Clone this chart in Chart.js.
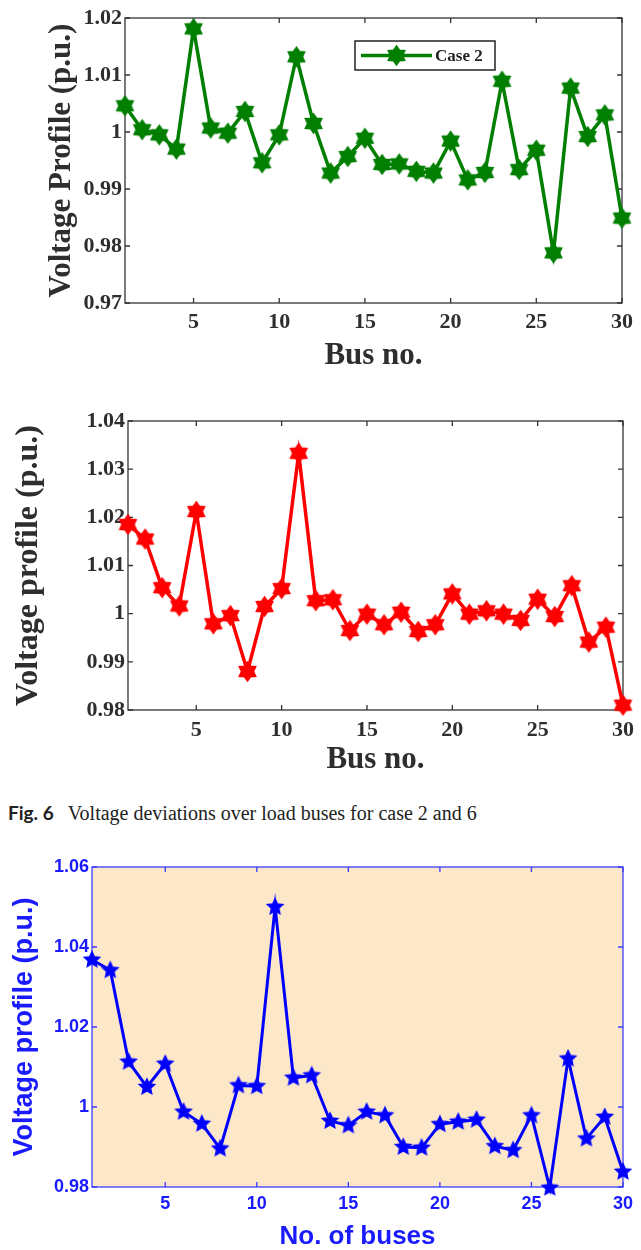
<!DOCTYPE html>
<html>
<head>
<meta charset="utf-8">
<script src="https://cdn.jsdelivr.net/npm/chart.js@4.4.1/dist/chart.umd.min.js"></script>
<style>
  html, body { margin: 0; padding: 0; background: #fff; }
  #page { position: relative; width: 641px; height: 1250px; overflow: hidden; }
  canvas { position: absolute; left: 0; }
  #caption { position: absolute; left: 8px; top: 801px; font-size: 20px; color: #222; white-space: nowrap; }
  #caption b { font-family: Lato, "Liberation Sans", sans-serif; font-weight: 700; font-size: 19px; margin-right: 14px; }
  #caption span { font-family: "Liberation Serif", serif; }
</style>
</head>
<body>
<div id="page">
  <canvas id="case2Chart" width="641" height="380" style="top:0px"></canvas>
  <canvas id="case6Chart" width="641" height="395" style="top:385px"></canvas>
  <div id="caption"><b>Fig. 6</b><span>Voltage deviations over load buses for case 2 and 6</span></div>
  <canvas id="case8aChart" width="641" height="410" style="top:840px"></canvas>
</div>
<script>
// bus numbers (x axis)
const busNo = [1, 2, 3, 4, 5, 6, 7, 8, 9, 10, 11, 12, 13, 14, 15,
  16, 17, 18, 19, 20, 21, 22, 23, 24, 25, 26, 27, 28, 29, 30];

// voltage values (p.u.)
const case2Voltage = [1.0046, 1.0004, 0.9995, 0.9970, 1.0181, 1.0007, 0.9998, 1.0036, 0.9946, 0.9995,
  1.0132, 1.0015, 0.9928, 0.9957, 0.9989, 0.9943, 0.9944, 0.9931, 0.9928, 0.9984,
  0.9916, 0.9929, 1.0089, 0.9934, 0.9968, 0.9788, 1.0077, 0.9992, 1.0030, 0.9849];

const case6Voltage = [1.0185, 1.0155, 1.0054, 1.0016, 1.0212, 0.9979, 0.9996, 0.9880, 1.0015, 1.0052,
  1.0333, 1.0027, 1.0029, 0.9965, 0.9999, 0.9977, 1.0003, 0.9963, 0.9977, 1.0041,
  0.9999, 1.0006, 0.9999, 0.9986, 1.0030, 0.9994, 1.0058, 0.9941, 0.9972, 0.9810];

const case8aVoltage = [1.0368, 1.0342, 1.0113, 1.0050, 1.0108, 0.9988, 0.9958, 0.9896, 1.0054, 1.0052,
  1.0500, 1.0073, 1.0079, 0.9965, 0.9954, 0.9988, 0.9979, 0.9900, 0.9898, 0.9957,
  0.9963, 0.9968, 0.9902, 0.9892, 0.9979, 0.9798, 1.0121, 0.9921, 0.9975, 0.9838];

// tick labels
const xTicks = [5, 10, 15, 20, 25, 30];
const yTicksCase2 = [0.97, 0.98, 0.99, 1, 1.01, 1.02];
const yTicksCase6 = [0.98, 0.99, 1, 1.01, 1.02, 1.03, 1.04];
const yTicksCase8a = [0.98, 1, 1.02, 1.04, 1.06];

// star shaped markers drawn once into small canvases
function makeStar(color, points, outer, inner) {
  const size = Math.ceil(outer * 2 + 4);
  const c = document.createElement("canvas");
  c.width = size;
  c.height = size;
  const ctx = c.getContext("2d");
  ctx.translate(size / 2, size / 2);
  ctx.beginPath();
  for (let i = 0; i < points * 2; i++) {
    const r = i % 2 === 0 ? outer : inner;
    const a = -Math.PI / 2 + i * Math.PI / points;
    ctx.lineTo(r * Math.cos(a), r * Math.sin(a));
  }
  ctx.closePath();
  ctx.fillStyle = color;
  ctx.fill();
  ctx.lineWidth = 1.5;
  ctx.strokeStyle = color;
  ctx.stroke();
  return c;
}

// box frame, inward ticks, plot background and in-plot legend
const framePlugin = {
  id: "matlabFrame",
  beforeDatasetsDraw(chart, args, opts) {
    const { ctx, chartArea: a, scales } = chart;
    ctx.save();
    ctx.strokeStyle = opts.color;
    ctx.lineWidth = 1.3;
    ctx.strokeRect(a.left, a.top, a.right - a.left, a.bottom - a.top);
    ctx.beginPath();
    scales.x.ticks.forEach(t => {
      const x = scales.x.getPixelForValue(t.value);
      ctx.moveTo(x, a.bottom); ctx.lineTo(x, a.bottom - 5);
      ctx.moveTo(x, a.top); ctx.lineTo(x, a.top + 5);
    });
    scales.y.ticks.forEach(t => {
      const y = scales.y.getPixelForValue(t.value);
      ctx.moveTo(a.left, y); ctx.lineTo(a.left + 5, y);
      ctx.moveTo(a.right, y); ctx.lineTo(a.right - 5, y);
    });
    ctx.stroke();
    ctx.restore();
  },
  beforeDraw(chart, args, opts) {
    if (!opts.background) return;
    const { ctx, chartArea: a } = chart;
    ctx.save();
    ctx.fillStyle = opts.background;
    ctx.fillRect(a.left, a.top, a.right - a.left, a.bottom - a.top);
    ctx.restore();
  },
  afterDraw(chart, args, opts) {
    const lg = opts.legend;
    const ds = chart.data.datasets[0];
    const ctx = chart.ctx;
    ctx.save();
    ctx.fillStyle = lg.fill;
    ctx.fillRect(lg.x, lg.y, lg.w, lg.h);
    ctx.strokeStyle = lg.stroke;
    ctx.lineWidth = 1.5;
    ctx.strokeRect(lg.x, lg.y, lg.w, lg.h);
    const midY = lg.y + lg.h / 2;
    ctx.strokeStyle = ds.borderColor;
    ctx.lineWidth = ds.borderWidth;
    ctx.beginPath();
    ctx.moveTo(lg.lineX1, midY);
    ctx.lineTo(lg.lineX2, midY);
    ctx.stroke();
    const m = ds.pointStyle;
    ctx.drawImage(m, (lg.lineX1 + lg.lineX2) / 2 - m.width / 2, midY - m.height / 2);
    ctx.fillStyle = lg.textColor;
    ctx.font = lg.font;
    ctx.textBaseline = "middle";
    ctx.fillText(lg.text, lg.textX, midY + 1);
    ctx.restore();
  }
};

function formatTick(v) {
  return parseFloat(v.toFixed(2)).toString();
}

function createVoltageChart(cfg) {
  const ctx = document.getElementById(cfg.canvas).getContext("2d");
  const tickFont = { family: cfg.family, size: cfg.tickSize, weight: "bold" };
  const titleFont = { family: cfg.family, size: cfg.titleSize, weight: "bold", lineHeight: 1 };

  return new Chart(ctx, {
    type: "line",
    data: {
      datasets: [{
        label: cfg.label,
        data: busNo.map((b, i) => ({ x: b, y: cfg.values[i] })),
        borderColor: cfg.color,
        backgroundColor: cfg.color,
        borderWidth: cfg.lineWidth,
        pointStyle: cfg.marker,
        pointRadius: 7,
        tension: 0,
        clip: false
      }]
    },
    options: {
      responsive: false,
      animation: false,
      events: [],
      layout: { padding: { top: cfg.padTop, right: cfg.padRight, left: 0, bottom: 0 } },
      plugins: {
        legend: { display: false },
        tooltip: { enabled: false },
        matlabFrame: { color: cfg.frameColor, background: cfg.background, legend: cfg.legend }
      },
      scales: {
        x: {
          type: "linear",
          min: 1,
          max: 30,
          afterBuildTicks: s => { s.ticks = xTicks.map(v => ({ value: v })); },
          afterFit: s => { s.height = cfg.xAxisHeight; },
          grid: { display: false, drawTicks: false },
          border: { display: false },
          ticks: { color: cfg.textColor, font: tickFont, padding: cfg.xTickPad, maxRotation: 0, autoSkip: false },
          title: { display: true, text: cfg.xTitle, color: cfg.textColor, font: titleFont, padding: { top: 0, bottom: cfg.xTitlePad } }
        },
        y: {
          min: cfg.yMin,
          max: cfg.yMax,
          afterBuildTicks: s => { s.ticks = cfg.yTicks.map(v => ({ value: v })); },
          afterFit: s => { s.width = cfg.yAxisWidth; },
          grid: { display: false, drawTicks: false },
          border: { display: false },
          ticks: { color: cfg.textColor, font: tickFont, padding: 3, callback: formatTick },
          title: { display: true, text: cfg.yTitle, color: cfg.textColor, font: { ...titleFont, size: cfg.yTitleSize }, padding: { top: cfg.yTitlePad, bottom: 0 } }
        }
      }
    },
    plugins: [framePlugin]
  });
}

document.addEventListener("DOMContentLoaded", () => {
  const serif = "'Liberation Serif', 'Times New Roman', serif";
  const sans = "'Liberation Sans', Arial, sans-serif";

  createVoltageChart({
    canvas: "case2Chart", label: "Case 2", values: case2Voltage,
    color: "#007f00", lineWidth: 3.5, marker: makeStar("#007f00", 6, 9.5, 6),
    yMin: 0.97, yMax: 1.02, yTicks: yTicksCase2,
    family: serif, tickSize: 22, titleSize: 31, yTitleSize: 31,
    textColor: "#2e2e2e", frameColor: "#333",
    xTitle: "Bus no.", yTitle: "Voltage Profile (p.u.)",
    padTop: 18, padRight: 19, yAxisWidth: 125, xAxisHeight: 77,
    xTickPad: 6, xTitlePad: 9, yTitlePad: 46,
    legend: { x: 355, y: 41, w: 140, h: 29, lineX1: 361, lineX2: 432, textX: 435,
      text: "Case 2", font: "bold 17px " + serif, fill: "#fff", stroke: "#222", textColor: "#222" }
  });

  createVoltageChart({
    canvas: "case6Chart", label: "Case 6", values: case6Voltage,
    color: "#ff0000", lineWidth: 3.5, marker: makeStar("#ff0000", 6, 9.5, 6),
    yMin: 0.98, yMax: 1.04, yTicks: yTicksCase6,
    family: serif, tickSize: 22, titleSize: 31, yTitleSize: 32,
    textColor: "#2e2e2e", frameColor: "#333",
    xTitle: "Bus no.", yTitle: "Voltage profile (p.u.)",
    padTop: 36, padRight: 18, yAxisWidth: 128, xAxisHeight: 70,
    xTickPad: 7, xTitlePad: 5, yTitlePad: 13,
    legend: { x: 382, y: 444, w: 141, h: 30, lineX1: 387, lineX2: 460, textX: 463,
      text: "Case 6", font: "bold 17px " + serif, fill: "#fff", stroke: "#222", textColor: "#222" }
  });

  createVoltageChart({
    canvas: "case8aChart", label: "Case 8a", values: case8aVoltage,
    color: "#0000ff", lineWidth: 3, marker: makeStar("#0000ff", 5, 8, 3.8),
    yMin: 0.98, yMax: 1.06, yTicks: yTicksCase8a,
    family: sans, tickSize: 18, titleSize: 26, yTitleSize: 27,
    textColor: "#1a1aff", frameColor: "#3c3cff", background: "#fce7c8",
    xTitle: "No. of buses", yTitle: "Voltage profile (p.u.)",
    padTop: 27, padRight: 18, yAxisWidth: 92, xAxisHeight: 63,
    xTickPad: 6, xTitlePad: 0, yTitlePad: 11,
    legend: { x: 466, y: 882, w: 141, h: 28, lineX1: 472, lineX2: 532, textX: 535,
      text: "Case 8a", font: "16px " + sans, fill: "#00ffff", stroke: "#333", textColor: "#111" }
  });
});
</script>
</body>
</html>
